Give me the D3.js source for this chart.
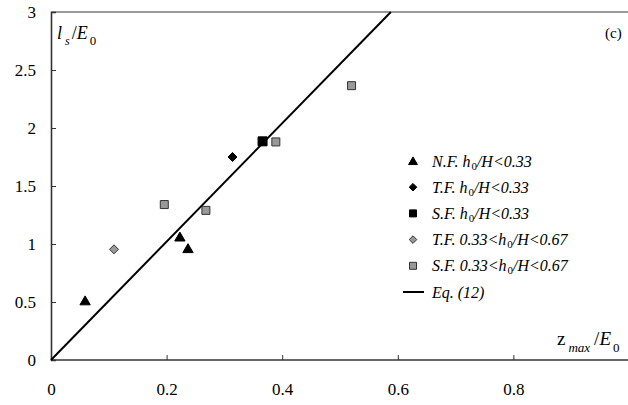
<!DOCTYPE html>
<html><head><meta charset="utf-8">
<script src="https://cdn.jsdelivr.net/npm/d3@7/dist/d3.min.js"></script>
<style>body{margin:0;background:#fff}svg{display:block}text{font-family:"Liberation Serif","Times New Roman",serif}</style>
</head><body>
<svg id="c" width="628" height="405"></svg>
<script>
// Data
const nfX = [0.059, 0.223, 0.237], nfY = [0.51, 1.06, 0.96];          // N.F. h0/H<0.33
const tfX = [0.314], tfY = [1.75];                                   // T.F. h0/H<0.33
const sfX = [0.366], sfY = [1.885];                                  // S.F. h0/H<0.33
const tf2X = [0.109], tf2Y = [0.954];                                // T.F. 0.33<h0/H<0.67
const sf2X = [0.196, 0.268, 0.389, 0.520], sf2Y = [1.34, 1.29, 1.88, 2.365]; // S.F. 0.33<h0/H<0.67
const eqX = [0, 0.588], eqY = [0, 3];                                 // Eq. (12)
const xTicks = [0, 0.2, 0.4, 0.6, 0.8];
const yTicks = [0, 0.5, 1, 1.5, 2, 2.5, 3];
const legendLabels = [
  ["N.F. h", "0", "/H<0.33"],
  ["T.F. h", "0", "/H<0.33"],
  ["S.F. h", "0", "/H<0.33"],
  ["T.F. 0.33<h", "0", "/H<0.67"],
  ["S.F. 0.33<h", "0", "/H<0.67"],
  ["Eq. (12)", "", ""]
];

const svg = d3.select("#c");
const x = d3.scaleLinear().domain([0, 1]).range([51, 629]);
const y = d3.scaleLinear().domain([0, 3]).range([360, 12]);
const axisColor = "#333";

// top border
svg.append("line").attr("x1", x(0)).attr("x2", 628).attr("y1", y(3)).attr("y2", y(3))
  .attr("stroke", "#777").attr("stroke-width", 1.5);

// axes
const xa = svg.append("g").attr("transform", `translate(0,${y(0)})`)
  .call(d3.axisBottom(x).tickValues(xTicks).tickSize(-5).tickPadding(23).tickFormat(d3.format("")));
const ya = svg.append("g").attr("transform", `translate(${x(0)},0)`)
  .call(d3.axisLeft(y).tickValues(yTicks).tickSize(-5).tickPadding(15).tickFormat(d3.format("")));
[xa, ya].forEach(a => {
  a.select(".domain").attr("stroke", axisColor).attr("stroke-width", 1.6);
  a.selectAll(".tick line").attr("stroke", axisColor).attr("stroke-width", 1);
  a.selectAll(".tick text").attr("font-size", 17).attr("fill", "#000")
    .style("font-family", '"Liberation Serif", serif');
});
xa.select(".domain").attr("d", `M${x(0)},0H628`);

// Eq line
const line = d3.line().x(d => x(d[0])).y(d => y(d[1]));
svg.append("path").datum(eqX.map((v, i) => [v, eqY[i]])).attr("d", line)
  .attr("fill", "none").attr("stroke", "#000").attr("stroke-width", 2);

// marker helpers
const tri = d3.symbol().type(d3.symbolTriangle).size(46)();
const sq = s => `M${-s},${-s}H${s}V${s}H${-s}Z`;
const dia = s => `M0,${-s}L${s},0L0,${s}L${-s},0Z`;

function pts(xs, ys, path, fill, stroke, dy) {
  svg.append("g").selectAll("path").data(xs.map((v, i) => [v, ys[i]])).join("path")
    .attr("d", path).attr("transform", d => `translate(${x(d[0])},${y(d[1]) + (dy || 0)})`)
    .attr("fill", fill).attr("stroke", stroke).attr("stroke-width", 1);
}
pts(nfX, nfY, tri, "#000", "#000", 1);
pts(tfX, tfY, dia(4.5), "#000", "#000");
pts(sfX, sfY, sq(4.5), "#000", "#000");
pts(tf2X, tf2Y, dia(4.5), "#999", "#333");
pts(sf2X, sf2Y, sq(4), "#999", "#333");

// legend
const lg = svg.append("g");
const mk = [[tri, "#000", "#000"], [dia(3.8), "#000", "#000"], [sq(3.5), "#000", "#000"],
            [dia(3.8), "#999", "#333"], [sq(3.5), "#999", "#333"]];
legendLabels.forEach((lab, i) => {
  const cy = 161 + i * 26.2;
  if (i < 5) {
    lg.append("path").attr("d", i === 0 ? d3.symbol().type(d3.symbolTriangle).size(34)() : mk[i][0])
      .attr("transform", `translate(413,${cy + (i === 0 ? 1 : 0)})`)
      .attr("fill", mk[i][1]).attr("stroke", mk[i][2]).attr("stroke-width", 1);
  } else {
    lg.append("line").attr("x1", 403).attr("x2", 424).attr("y1", cy).attr("y2", cy)
      .attr("stroke", "#000").attr("stroke-width", 2);
  }
  const t = lg.append("text").attr("x", 432).attr("y", cy + 5.5).attr("font-size", 16)
    .attr("font-style", "italic").attr("fill", "#000");
  t.append("tspan").text(lab[0]);
  if (lab[1]) {
    t.append("tspan").attr("font-size", 11).attr("dy", 3).attr("dx", 1).attr("font-style", "normal").text(lab[1]);
    t.append("tspan").attr("dy", -3).text(lab[2]);
  }
});

// axis titles
const yt = svg.append("text").attr("x", 57).attr("y", 39).attr("font-size", 18).attr("fill", "#000");
yt.append("tspan").attr("font-style", "italic").text("l");
yt.append("tspan").attr("font-style", "italic").attr("font-size", 12).attr("dy", 6).attr("dx", 3).text("s");
yt.append("tspan").attr("dy", -6).attr("dx", 2).text("/");
yt.append("tspan").attr("font-style", "italic").text("E");
yt.append("tspan").attr("font-size", 13).attr("dy", 6).attr("dx", 2).text("0");

const xt = svg.append("text").attr("x", 557).attr("y", 345).attr("font-size", 19).attr("fill", "#000");
xt.append("tspan").text("z");
xt.append("tspan").attr("font-style", "italic").attr("font-size", 13).attr("dy", 7).attr("dx", 3).text("max");
xt.append("tspan").attr("dy", -7).attr("dx", 4).text("/");
xt.append("tspan").attr("font-style", "italic").text("E");
xt.append("tspan").attr("font-size", 13).attr("dy", 7).attr("dx", 2).text("0");

svg.append("text").attr("x", 605).attr("y", 38).attr("font-size", 15).attr("fill", "#000").text("(c)");
</script>
</body></html>
